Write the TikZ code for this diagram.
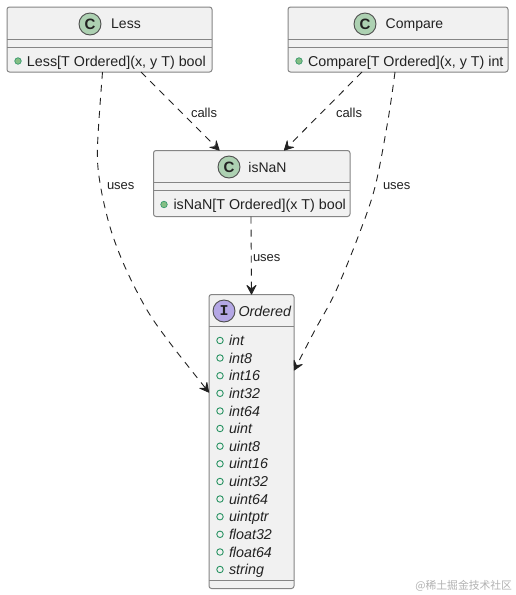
\documentclass[tikz,border=0pt]{standalone}
\usepackage{fontspec}
\setmainfont{Liberation Sans}
\setmonofont{Liberation Mono}
\newfontfamily\cjkf{Noto Sans CJK SC}
\usetikzlibrary{arrows.meta,calc}
\definecolor{boxfill}{HTML}{F1F1F1}
\definecolor{boxline}{HTML}{858585}
\definecolor{spotC}{HTML}{ADD1B2}
\definecolor{spotI}{HTML}{B4A7E5}
\definecolor{pubfill}{HTML}{84BE84}
\definecolor{publine}{HTML}{038048}
\definecolor{ink}{HTML}{222222}
\tikzset{
  x=1pt,y=-1pt,
  every node/.style={inner sep=0pt,outer sep=0pt,text=ink},
  umlbox/.style={draw=boxline,fill=boxfill,line width=1pt,rounded corners=2.5pt,anchor=north west},
  divider/.style={draw=boxline,line width=1pt},
  spot/.style={circle,draw=ink!80,line width=0.9pt,minimum size=22pt,font=\fontsize{15}{15}\selectfont\bfseries},
  title/.style={font=\fontsize{14}{16}\selectfont,anchor=base},
  ititle/.style={font=\fontsize{14.3}{16}\selectfont\itshape,anchor=base west},
  member/.style={font=\fontsize{14.3}{16}\selectfont,anchor=base west},
  imember/.style={font=\fontsize{14.3}{16}\selectfont\itshape,anchor=base west},
  pubdot/.style={circle,draw=publine!80,fill=pubfill,line width=0.7pt,minimum size=6.5pt},
  pubring/.style={circle,draw=publine!85,fill=none,line width=0.9pt,minimum size=6.5pt},
  link/.style={draw=ink,line width=0.9pt,dash pattern=on 7pt off 6pt,
    -{Stealth[length=11pt,width=11.5pt,inset=4.5pt,round,line width=0.8pt]}},
  lab/.style={font=\fontsize{13}{15}\selectfont,anchor=base west},
}
\begin{document}
\begin{tikzpicture}
\useasboundingbox (0,0) rectangle (516,595);
\fill[white] (0,0) rectangle (516,595);

% Less
\node[umlbox,minimum width=205pt,minimum height=65pt] (less) at (7,7) {};
\draw[divider] (7,39) -- (212,39) (7,47) -- (212,47);
\node[spot,fill=spotC] (lessC) at (90,24) {C};
\node[title] (lessT) at (126,28.5) {Less};
\node[pubdot] (lessD) at (18,61) {};
\node[member] (lessM) at (27,66) {Less[T Ordered](x, y T) bool};

% Compare
\node[umlbox,minimum width=220pt,minimum height=65pt] (cmp) at (288,7) {};
\draw[divider] (288,39) -- (508,39) (288,47) -- (508,47);
\node[spot,fill=spotC] (cmpC) at (365,24) {C};
\node[title] (cmpT) at (414.5,28.5) {Compare};
\node[pubdot] (cmpD) at (299,61) {};
\node[member] (cmpM) at (308,66) {Compare[T Ordered](x, y T) int};

% isNaN
\node[umlbox,minimum width=196.5pt,minimum height=66pt] (nan) at (153.5,150.5) {};
\draw[divider] (153.5,182.5) -- (350,182.5) (153.5,190.5) -- (350,190.5);
\node[spot,fill=spotC] (nanC) at (229,167) {C};
\node[title] (nanT) at (267.5,172) {isNaN};
\node[pubdot] (nanD) at (164,204.5) {};
\node[member] (nanM) at (173.5,209.5) {isNaN[T Ordered](x T) bool};

% Ordered
\node[umlbox,minimum width=85pt,minimum height=294pt] (ord) at (209,294.5) {};
\draw[divider] (209,326.5) -- (294,326.5) (209,580) -- (294,580);
\node[spot,fill=spotI] (ordI) at (224,311) {\ttfamily\bfseries I};
\node[ititle] (ordT) at (238.5,316) {Ordered};
\foreach \n/\t/\y in {a/int/340.5,b/int8/358,c/int16/375.7,d/int32/393.3,e/int64/411,f/uint/428.5,g/uint8/446.2,h/uint16/463.8,i/uint32/481.5,j/uint64/499,k/uintptr/516.7,l/float32/534.3,m/float64/552,n/string/569.5}{
  \node[pubring] (r\n) at (220,\y) {};
  \node[imember] (t\n) at (229,\y+5) {\t};
}

% Connectors
\coordinate (lessCalls) at ($(less.south west)+(134,0)$);
\coordinate (lessUses) at ($(less.south west)+(95.5,0)$);
\coordinate (cmpCalls) at ($(cmp.south west)+(74,0)$);
\coordinate (cmpUses) at ($(cmp.south west)+(107,0)$);
\coordinate (nanInL) at ($(nan.north west)+(66,0)$);
\coordinate (nanInR) at ($(nan.north west)+(130.5,0)$);
\coordinate (nanOut) at ($(nan.south west)+(97.5,0)$);
\coordinate (ordTop) at ($(ord.north west)+(42.5,0)$);
\coordinate (ordL) at ($(ord.north west)+(0,98)$);
\coordinate (ordR) at ($(ord.north east)+(0,76)$);
\draw[link] (lessCalls) -- (nanInL);
\draw[link] (cmpCalls) -- (nanInR);
\draw[link] (nanOut) -- (ordTop);
\draw[link] plot[smooth,tension=0.55] coordinates {(lessUses) (97.5,147) (100,183) (110,227) (125,267) (147,310) (170,343) (ordL)};
\draw[link] plot[smooth,tension=0.55] coordinates {(cmpUses) (388,120) (375,187) (358,237) (335,293) (315,330) (ordR)};

\node[lab] (l1) at (191,117) {calls};
\node[lab] (l2) at (336,117) {calls};
\node[lab] (l3) at (107,189) {uses};
\node[lab] (l4) at (383,189) {uses};
\node[lab] (l5) at (253,261) {uses};
\node[font=\cjkf\fontsize{10.8}{12}\selectfont,text=black!30,anchor=base east] (wm) at (512,589) {@稀土掘金技术社区};
\end{tikzpicture}
\end{document}
